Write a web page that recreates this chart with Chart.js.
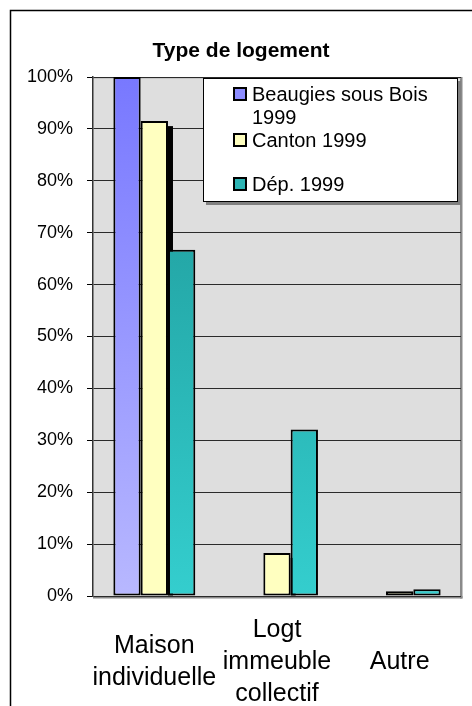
<!DOCTYPE html>
<html><head><meta charset="utf-8">
<script src="https://cdn.jsdelivr.net/npm/chart.js@4/dist/chart.umd.min.js"></script>
<style>html,body{margin:0;padding:0;background:#fff;}canvas{display:block;}</style>
</head><body>
<canvas id="c" width="472" height="706"></canvas>
<script>
const chartTitle = 'Type de logement';
const categories = [['Maison', 'individuelle'], ['Logt', 'immeuble', 'collectif'], ['Autre']];
const seriesNames = [['Beaugies sous Bois', '1999'], ['Canton 1999'], ['Dép. 1999']];
const beaugies = [100, 0, 0];
const canton = [91.5, 8.3, 0.9];
const departement = [66.7, 32.1, 1.3];
const yMin = 0, yMax = 100, yStep = 10;

const FONT = "'Liberation Sans', Arial, sans-serif";

function vGrad(top, bottom) {
  return (ctx) => {
    const a = ctx.chart.chartArea;
    if (!a) return top;
    const g = ctx.chart.ctx.createLinearGradient(0, a.top, 0, a.bottom);
    g.addColorStop(0, top);
    g.addColorStop(1, bottom);
    return g;
  };
}

const markerColors = ['#8C8CFF', '#FFFFC0', '#2DB4B4'];

const decor = {
  id: 'decor',
  beforeDraw(chart) {
    const c = chart.ctx, a = chart.chartArea;
    c.save();
    c.fillStyle = '#DEDEDE';
    c.fillRect(a.left, a.top, a.right - a.left, a.bottom - a.top);
    c.fillStyle = '#8A8A8A';
    c.fillRect(a.right - 1, a.top, 2.5, a.bottom - a.top + 2.5);
    c.fillRect(a.left, a.bottom, a.right - a.left + 1.5, 2.5);
    c.fillStyle = '#B0B0B0';
    c.fillRect(a.left, a.top, a.right - a.left, 1.5);
    // outer frame
    c.strokeStyle = '#000';
    c.lineWidth = 1.5;
    c.beginPath();
    c.moveTo(10.5, 706);
    c.lineTo(10.5, 10.5);
    c.lineTo(472, 10.5);
    c.stroke();
    // title
    c.fillStyle = '#000';
    c.font = 'bold 21px ' + FONT;
    c.textAlign = 'center';
    c.textBaseline = 'alphabetic';
    c.fillText(chartTitle, 241, 57);
    c.restore();
  },
  beforeDatasetsDraw(chart) {
    const c = chart.ctx;
    const meta = chart.getDatasetMeta(1);
    c.save();
    c.fillStyle = '#000';
    meta.data.forEach((bar) => {
      const p = bar.getProps(['x', 'y', 'width', 'base'], true);
      if (p.base - p.y > 8) {
        c.fillRect(p.x + p.width / 2, p.y + 5, 5, p.base - p.y - 5);
      }
    });
    c.restore();
  },
  afterDraw(chart) {
    const c = chart.ctx;
    const L = 203, T = 78, R = 458, B = 202;
    c.save();
    c.fillStyle = '#808080';
    c.fillRect(L + 3, T + 3, R - L, B - T);
    c.fillStyle = '#fff';
    c.fillRect(L, T, R - L, B - T);
    c.strokeStyle = '#000';
    c.lineWidth = 1;
    c.strokeRect(L + 0.5, T + 0.5, R - L - 1, B - T - 1);
    const rows = [94, 140, 184];
    c.font = '20px ' + FONT;
    c.textAlign = 'left';
    c.textBaseline = 'middle';
    seriesNames.forEach((lines, i) => {
      const y = rows[i];
      c.fillStyle = markerColors[i];
      c.fillRect(234, y - 6, 12, 12);
      c.strokeStyle = '#000';
      c.lineWidth = 2;
      c.strokeRect(234, y - 6, 12, 12);
      c.fillStyle = '#000';
      lines.forEach((t, j) => c.fillText(t, 252, y + 1 + j * 23));
    });
    c.restore();
  }
};

new Chart(document.getElementById('c'), {
  type: 'bar',
  data: {
    labels: categories,
    datasets: [
      { label: seriesNames[0].join(' '), data: beaugies, backgroundColor: vGrad('#7878FF', '#B8B8FF') },
      { label: seriesNames[1].join(' '), data: canton, backgroundColor: '#FFFFC0' },
      { label: seriesNames[2].join(' '), data: departement, backgroundColor: vGrad('#1C9494', '#34CECE') }
    ]
  },
  options: {
    responsive: false,
    animation: false,
    devicePixelRatio: 1,
    layout: { padding: { left: 0, top: 77, right: 11, bottom: 0 } },
    datasets: {
      bar: {
        categoryPercentage: 0.668,
        barPercentage: 1,
        borderColor: '#000',
        borderWidth: 2,
        borderSkipped: false
      }
    },
    plugins: { legend: { display: false }, title: { display: false }, tooltip: { enabled: false } },
    scales: {
      x: {
        grid: { display: false, drawTicks: false },
        border: { display: false },
        afterFit(s) { s.height = 110; },
        ticks: {
          color: '#000',
          font: { family: FONT, size: 25, lineHeight: 1.28 },
          maxRotation: 0,
          autoSkip: false,
          padding: 34,
          crossAlign: 'center'
        }
      },
      y: {
        min: yMin,
        max: yMax,
        afterFit(s) { s.width = 93; },
        grid: { color: '#2A2A2A', lineWidth: 1, drawTicks: true, tickLength: 6, tickColor: '#000' },
        border: { display: true, color: '#333', width: 1.5 },
        ticks: {
          stepSize: yStep,
          color: '#000',
          padding: 14,
          font: { family: FONT, size: 18 },
          callback: (v) => v + '%'
        }
      }
    }
  },
  plugins: [decor]
});
</script>
</body></html>
